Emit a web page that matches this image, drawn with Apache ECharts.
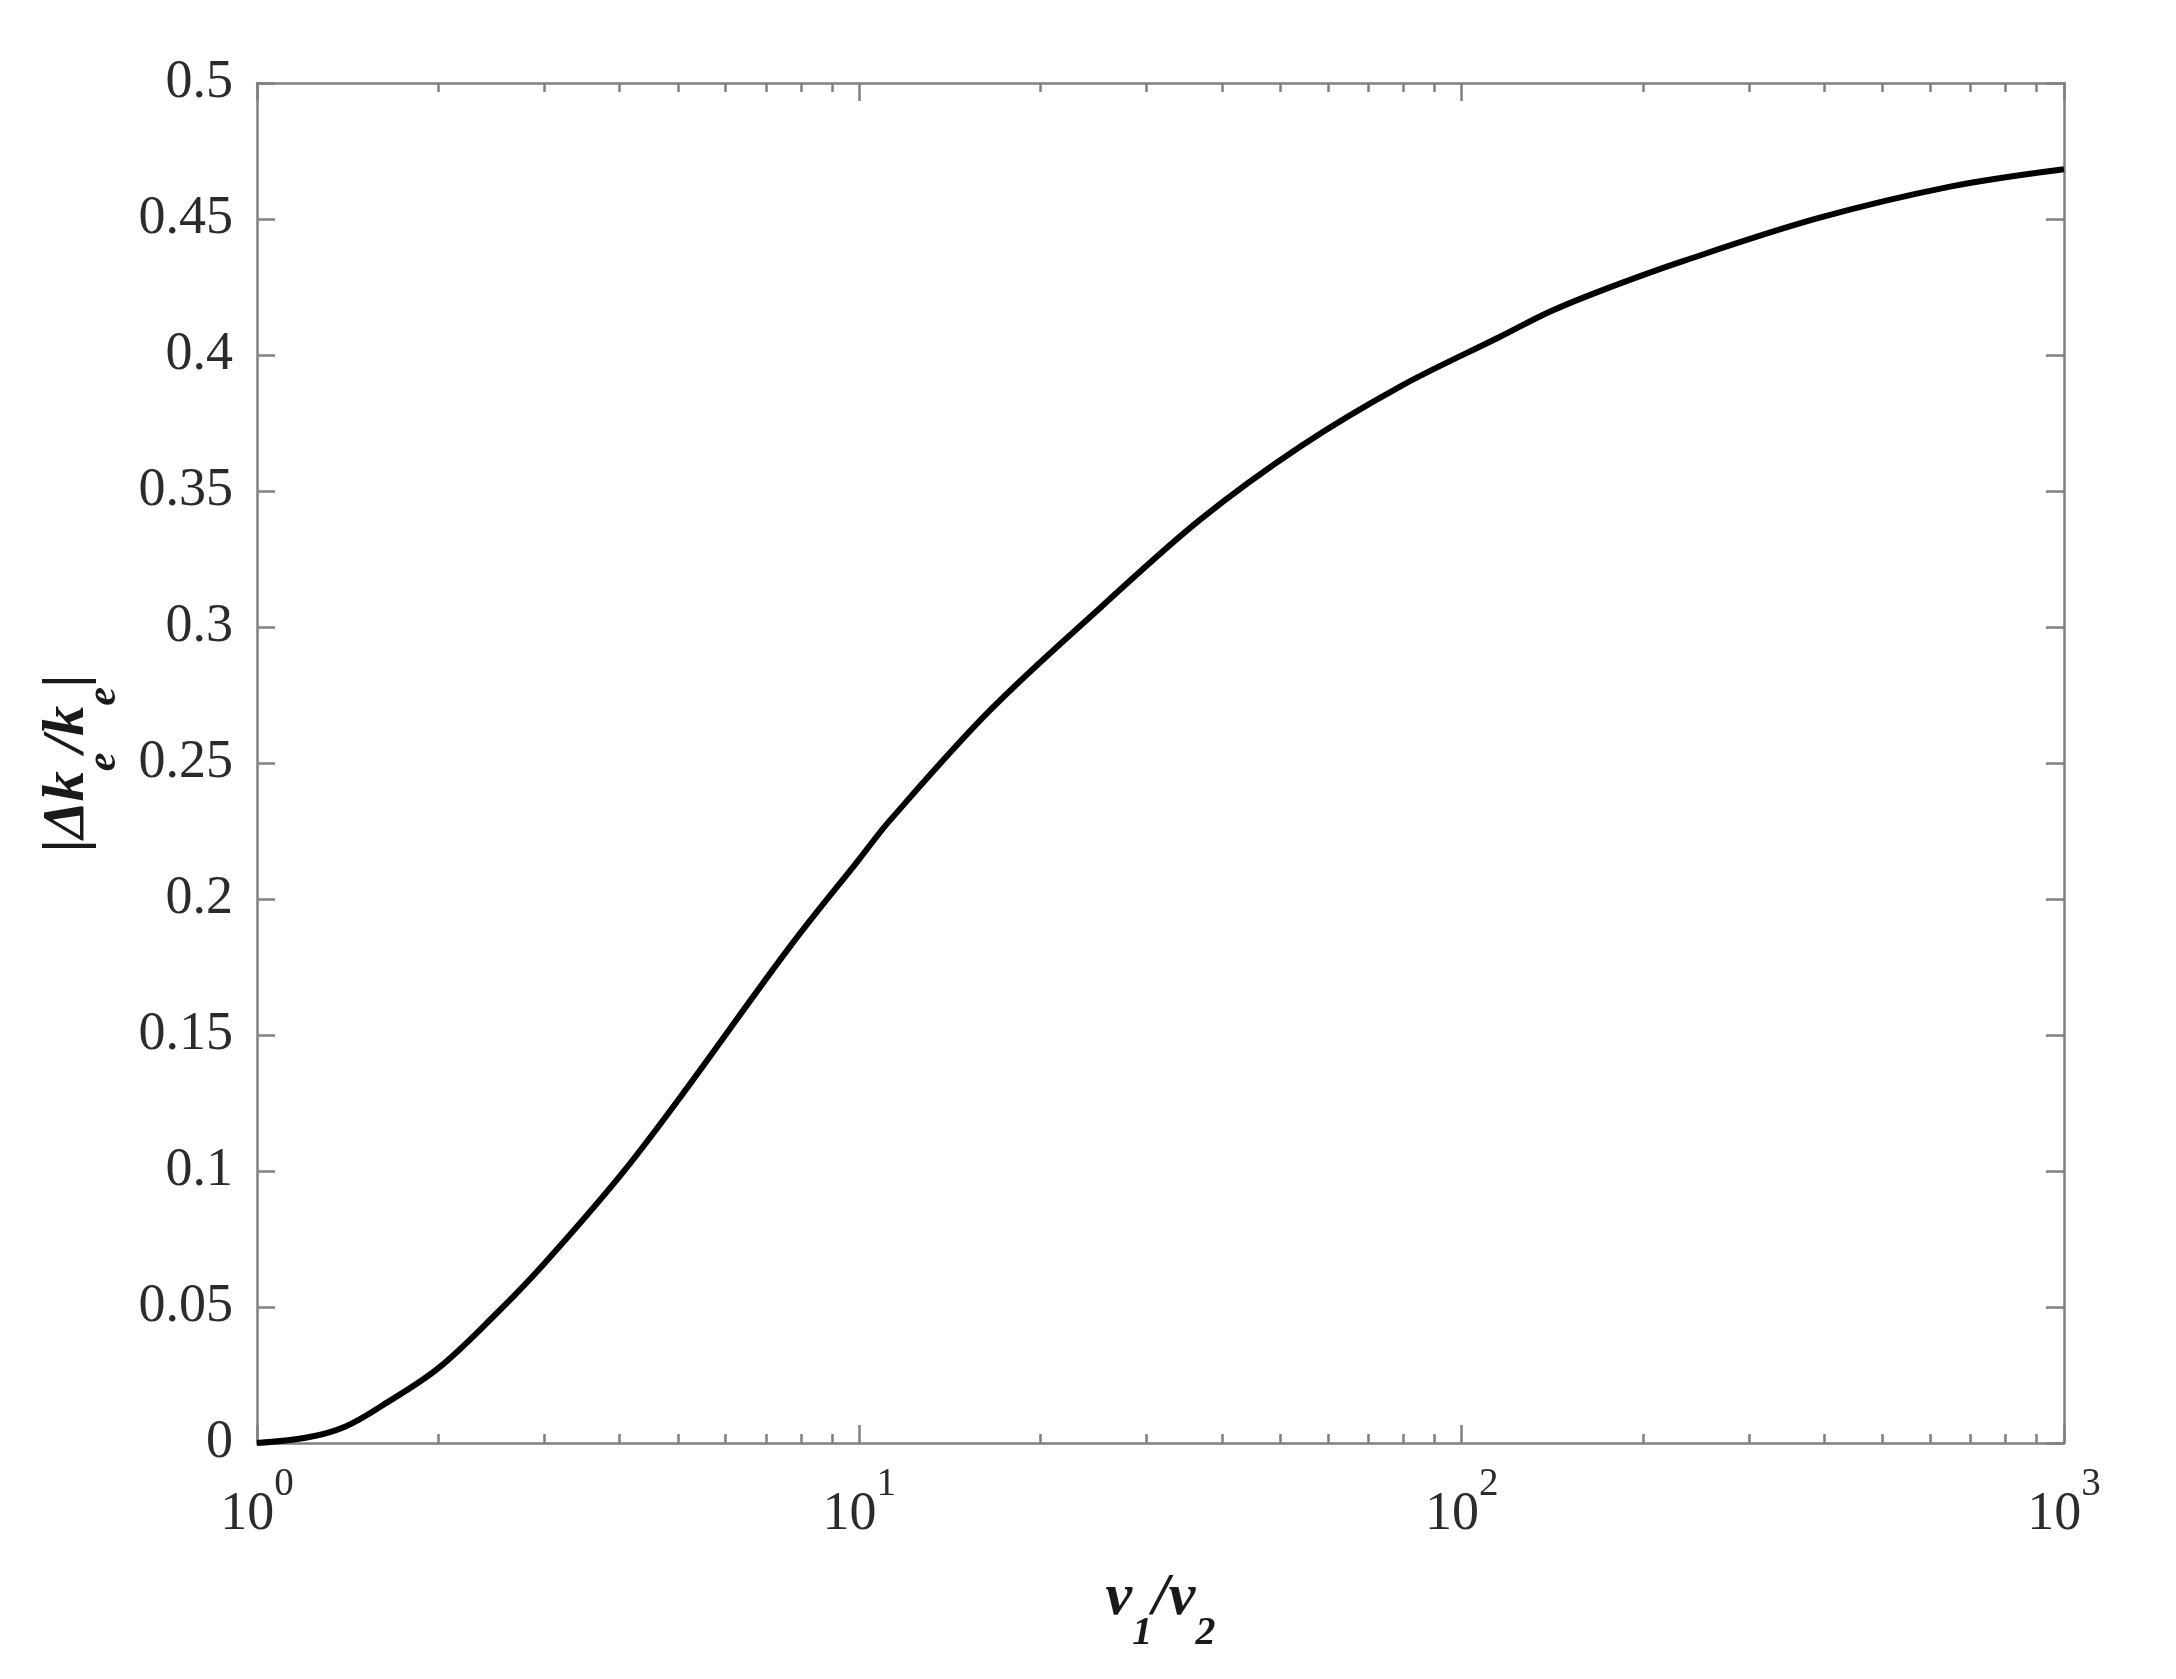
<!DOCTYPE html>
<html>
<head>
<meta charset="utf-8">
<script src="https://cdn.jsdelivr.net/npm/echarts@6/dist/echarts.min.js"></script>
<style>
  html, body { margin: 0; padding: 0; background: #ffffff; }
  #chart { width: 2176px; height: 1679px; }
</style>
</head>
<body>
<div id="chart"></div>
<script>
// ---- data ----
const ratio = [1, 1.21, 1.4, 1.62, 2, 2.5, 3, 4, 5, 7.67, 10, 11.25, 16.5, 25.1, 36.8, 53.9, 79, 115.8, 140, 169.7, 233, 389, 647, 1000];
const dkRel = [0, 0.002, 0.006, 0.014, 0.0275, 0.0477, 0.066, 0.098, 0.126, 0.1825, 0.2147, 0.229, 0.2695, 0.307, 0.3395, 0.3663, 0.3884, 0.4067, 0.4159, 0.4235, 0.4345, 0.4502, 0.4619, 0.4683];

// tick definitions
const xMajorTicks = [1, 10, 100, 1000];
const xMinorMultipliers = [2, 3, 4, 5, 6, 7, 8, 9];
const yTickValues = [0, 0.05, 0.1, 0.15, 0.2, 0.25, 0.3, 0.35, 0.4, 0.45, 0.5];

// minor tick positions (in log10 space, used on an overlay value axis 0..3)
const minorLog = [];
[1, 10, 100].forEach(function (d) {
  xMinorMultipliers.forEach(function (m) { minorLog.push(Math.log10(d * m)); });
});

const axisGray = '#808080';
const textColor = '#2b2b2b';
const serif = '"Liberation Serif", "Times New Roman", serif';
const gridBox = { left: 257, right: 112, top: 83, bottom: 236, containLabel: false };

const chart = echarts.init(document.getElementById('chart'), null, { renderer: 'canvas' });

const option = {
  backgroundColor: '#ffffff',
  animation: false,
  grid: [Object.assign({}, gridBox), Object.assign({}, gridBox)],
  xAxis: [
    {
      gridIndex: 0, type: 'log', logBase: 10, min: xMajorTicks[0], max: xMajorTicks[xMajorTicks.length - 1],
      position: 'bottom',
      axisLine: { show: true, onZero: false, lineStyle: { color: axisGray, width: 2.5 } },
      axisTick: { show: true, inside: true, length: 18, lineStyle: { color: axisGray, width: 2.5 } },
      splitLine: { show: false },
      axisLabel: {
        margin: 22,
        formatter: function (v) {
          const e = Math.round(Math.log10(v));
          return '{b|10}{s|' + e + '}';
        },
        rich: {
          b: { fontFamily: serif, fontSize: 54, color: textColor, lineHeight: 100 },
          s: { fontFamily: serif, fontSize: 39, color: textColor, lineHeight: 46, verticalAlign: 'top' }
        }
      },
      name: '{m|v}{s|1}{m|/v}{s|2}',
      nameLocation: 'middle',
      nameGap: 125,
      nameTextStyle: {
        verticalAlign: 'top',
        rich: {
          m: { fontFamily: serif, fontSize: 60, fontWeight: 'bold', fontStyle: 'italic', color: '#1a1a1a', lineHeight: 60, verticalAlign: 'top' },
          s: { fontFamily: serif, fontSize: 40, fontWeight: 'bold', fontStyle: 'italic', color: '#1a1a1a', lineHeight: 86, verticalAlign: 'bottom' }
        }
      }
    },
    {
      gridIndex: 0, type: 'log', logBase: 10, min: xMajorTicks[0], max: xMajorTicks[xMajorTicks.length - 1],
      position: 'top',
      axisLine: { show: true, onZero: false, lineStyle: { color: axisGray, width: 2.5 } },
      axisTick: { show: true, inside: true, length: 18, lineStyle: { color: axisGray, width: 2.5 } },
      axisLabel: { show: false },
      splitLine: { show: false }
    },
    {
      gridIndex: 1, type: 'value', min: 0, max: 3, position: 'bottom',
      axisLine: { show: false, onZero: false },
      axisTick: { show: true, inside: true, length: 9, customValues: minorLog, lineStyle: { color: axisGray, width: 2.5 } },
      axisLabel: { show: false },
      splitLine: { show: false }
    },
    {
      gridIndex: 1, type: 'value', min: 0, max: 3, position: 'top',
      axisLine: { show: false, onZero: false },
      axisTick: { show: true, inside: true, length: 9, customValues: minorLog, lineStyle: { color: axisGray, width: 2.5 } },
      axisLabel: { show: false },
      splitLine: { show: false }
    }
  ],
  yAxis: [
    {
      gridIndex: 0, type: 'value', min: yTickValues[0], max: yTickValues[yTickValues.length - 1], interval: 0.05,
      position: 'left',
      axisLine: { show: true, onZero: false, lineStyle: { color: axisGray, width: 2.5 } },
      axisTick: { show: true, inside: true, length: 18, lineStyle: { color: axisGray, width: 2.5 } },
      splitLine: { show: false },
      axisLabel: {
        margin: 24, fontFamily: serif, fontSize: 54, color: textColor,
        formatter: function (v) { return String(+v.toFixed(2)); }
      },
      name: '{m|\u007C\u0394k}{s|e}{m|/k}{s|e}{m|\u007C}',
      nameLocation: 'middle',
      nameGap: 220,
      nameTextStyle: {
        verticalAlign: 'top',
        rich: {
          m: { fontFamily: serif, fontSize: 60, fontWeight: 'bold', fontStyle: 'italic', color: '#1a1a1a', lineHeight: 60, verticalAlign: 'top' },
          s: { fontFamily: serif, fontSize: 42, fontWeight: 'bold', fontStyle: 'italic', color: '#1a1a1a', lineHeight: 88, verticalAlign: 'bottom' }
        }
      }
    },
    {
      gridIndex: 0, type: 'value', min: yTickValues[0], max: yTickValues[yTickValues.length - 1], interval: 0.05,
      position: 'right',
      axisLine: { show: true, onZero: false, lineStyle: { color: axisGray, width: 2.5 } },
      axisTick: { show: true, inside: true, length: 18, lineStyle: { color: axisGray, width: 2.5 } },
      axisLabel: { show: false },
      splitLine: { show: false }
    },
    {
      gridIndex: 1, type: 'value', min: 0, max: 1, show: false
    }
  ],
  series: [
    {
      type: 'line',
      xAxisIndex: 0,
      yAxisIndex: 0,
      data: ratio.map(function (r, i) { return [r, dkRel[i]]; }),
      showSymbol: false,
      smooth: 0.35,
      clip: true,
      lineStyle: { color: '#000000', width: 6 }
    }
  ]
};

chart.setOption(option);
</script>
</body>
</html>
